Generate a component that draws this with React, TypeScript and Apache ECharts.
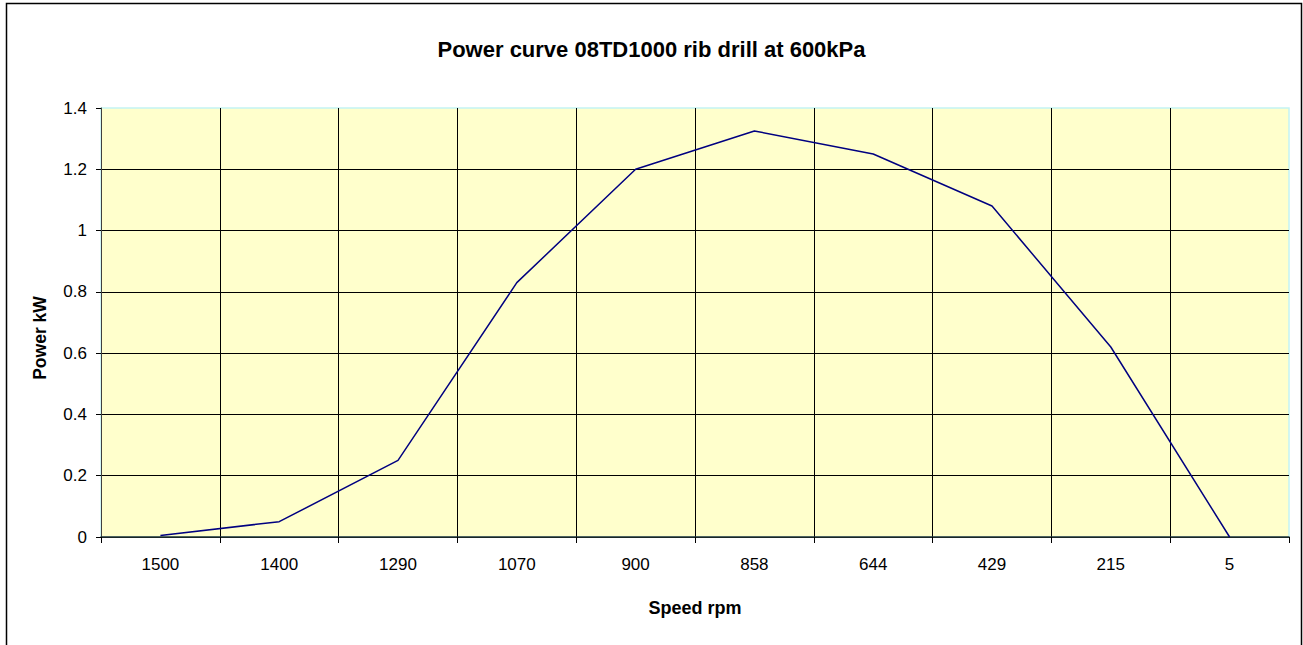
import React, { useEffect, useRef } from "react";
import * as echarts from "echarts";

const title = "Power curve 08TD1000 rib drill at 600kPa";
const xName = "Speed rpm";
const yName = "Power kW";
const speeds = ["1500", "1400", "1290", "1070", "900", "858", "644", "429", "215", "5"];
const power = [0.005, 0.05, 0.25, 0.83, 1.2, 1.325, 1.25, 1.08, 0.62, 0];

const FONT = "'Liberation Sans', Arial, sans-serif";

export default function App() {
  const ref = useRef<HTMLDivElement>(null);
  useEffect(() => {
    document.body.style.margin = "0";
    const chart = echarts.init(ref.current!, null, { renderer: "svg" });
    chart.setOption({
      animation: false,
      backgroundColor: "#ffffff",
      title: {
        text: title,
        left: "center",
        top: 33,
        textStyle: { fontFamily: FONT, fontSize: 22, fontWeight: "bold", color: "#000" },
      },
      graphic: [
        {
          type: "rect",
          shape: { x: 6.5, y: 3.5, width: 1295, height: 700 },
          style: { fill: "none", stroke: "#000", lineWidth: 1.5 },
          silent: true,
          z: 100,
        },
        {
          type: "text",
          x: 40,
          y: 338,
          rotation: Math.PI / 2,
          style: {
            text: yName,
            fontFamily: FONT,
            fontSize: 17.5,
            fontWeight: "bold",
            fill: "#000",
            align: "center",
            verticalAlign: "middle",
          },
          silent: true,
        },
      ],
      grid: {
        left: 101,
        top: 108,
        right: 14,
        bottom: 108,
        show: true,
        backgroundColor: "#ffffcc",
        borderColor: "#c4f4f4",
        borderWidth: 1.5,
      },
      xAxis: {
        type: "category",
        data: speeds,
        boundaryGap: true,
        name: xName,
        nameLocation: "middle",
        nameGap: 62,
        nameTextStyle: { fontFamily: FONT, fontSize: 18, fontWeight: "bold", color: "#000" },
        axisLine: { show: true, lineStyle: { color: "#223333", width: 1.5 } },
        axisTick: { show: true, length: 6, lineStyle: { color: "#000" } },
        axisLabel: { fontFamily: FONT, fontSize: 17, color: "#000", margin: 19 },
        splitLine: { show: true, showMaxLine: false, lineStyle: { color: "#000", width: 1 } },
      },
      yAxis: {
        type: "value",
        min: 0,
        max: 1.4,
        interval: 0.2,
        axisLine: { show: true, lineStyle: { color: "#404040", width: 1 } },
        axisTick: { show: true, length: 5, lineStyle: { color: "#000" } },
        axisLabel: { fontFamily: FONT, fontSize: 17, color: "#000", margin: 14 },
        splitLine: { show: true, showMaxLine: false, lineStyle: { color: "#000", width: 1 } },
      },
      series: [
        {
          type: "line",
          data: power,
          symbol: "none",
          lineStyle: { color: "#000080", width: 1.5 },
        },
      ],
    });
    return () => chart.dispose();
  }, []);
  return <div ref={ref} style={{ width: 1303, height: 645 }} />;
}
